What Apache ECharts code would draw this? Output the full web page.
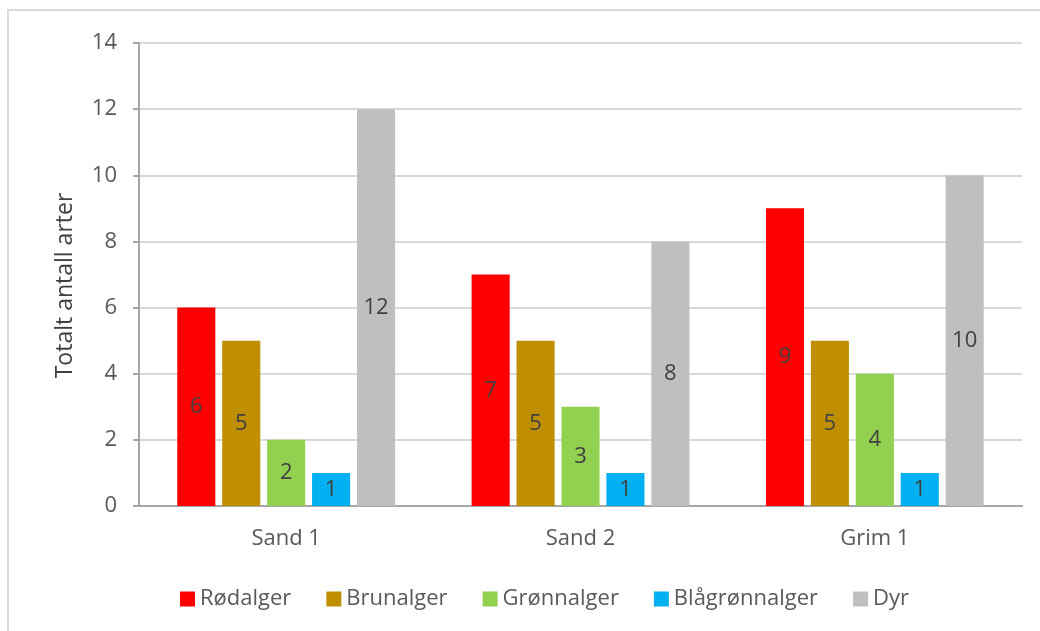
<!DOCTYPE html>
<html>
<head>
<meta charset="utf-8">
<script src="https://cdn.jsdelivr.net/npm/echarts@6/dist/echarts.min.js"></script>
<style>
  html, body { margin: 0; padding: 0; background: #fff; }
  #chart { width: 1040px; height: 631px; }
</style>
</head>
<body>
<div id="chart"></div>
<script>
const categories = ['Sand 1', 'Sand 2', 'Grim 1'];
const seriesNames = ['Rødalger', 'Brunalger', 'Grønnalger', 'Blågrønnalger', 'Dyr'];
const rodalger = [6, 7, 9];
const brunalger = [5, 5, 5];
const gronnalger = [2, 3, 4];
const blagronnalger = [1, 1, 1];
const dyr = [12, 8, 10];
const colors = ['#ff0000', '#bf8f00', '#92d050', '#00b0f0', '#bfbfbf'];

const values = [rodalger, brunalger, gronnalger, blagronnalger, dyr];
const font = '"Open Sans", "Liberation Sans", sans-serif';

const chart = echarts.init(document.getElementById('chart'));
chart.setOption({
  animation: false,
  textStyle: { fontFamily: font },
  graphic: [{
    type: 'rect',
    shape: { x: 8, y: 10, width: 1100, height: 700 },
    style: { fill: 'none', stroke: '#d9d9d9', lineWidth: 2 },
    silent: true
  }],
  grid: { left: 139, right: 18, top: 43, bottom: 125 },
  legend: {
    bottom: 16,
    left: 175,
    icon: 'rect',
    itemWidth: 15,
    itemHeight: 15,
    itemGap: 35,
    textStyle: { fontSize: 22, color: '#595959', fontFamily: font },
    data: seriesNames
  },
  xAxis: {
    type: 'category',
    data: categories,
    axisLine: { lineStyle: { color: '#a6a6a6', width: 2 } },
    axisTick: { show: false },
    axisLabel: { fontSize: 22, color: '#595959', margin: 22, fontFamily: font }
  },
  yAxis: {
    type: 'value',
    min: 0,
    max: 14,
    interval: 2,
    name: 'Totalt antall arter',
    nameLocation: 'middle',
    nameGap: 62,
    nameRotate: 90,
    nameTextStyle: { fontSize: 23, color: '#404040', fontFamily: font, padding: [0, 22, 0, 0] },
    axisLine: { show: true, lineStyle: { color: '#a6a6a6', width: 2 } },
    axisTick: { show: true, length: 6, lineStyle: { color: '#a6a6a6', width: 2 } },
    axisLabel: { fontSize: 22, color: '#595959', margin: 22, fontFamily: font },
    splitLine: { lineStyle: { color: '#d9d9d9', width: 2 } }
  },
  series: seriesNames.map((name, i) => ({
    name: name,
    type: 'bar',
    data: values[i],
    barGap: '18%',
    barCategoryGap: '26%',
    itemStyle: { color: colors[i] },
    label: {
      show: true,
      position: 'inside',
      fontSize: 22,
      color: '#404040',
      fontFamily: font
    }
  }))
});
</script>
</body>
</html>
